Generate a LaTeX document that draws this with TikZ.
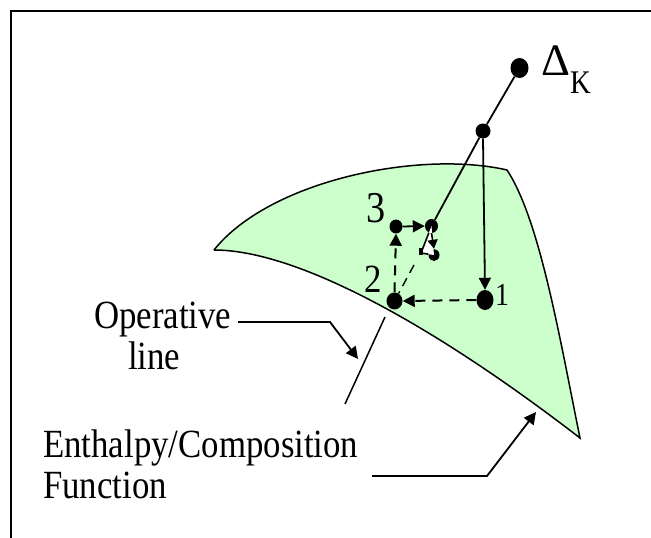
\documentclass[tikz,border=0pt]{standalone}
\usepackage{fontspec}
\setmainfont[FakeStretch=0.87]{Liberation Serif}
\newfontfamily\widefont{Liberation Serif}
\usetikzlibrary{arrows.meta,shapes.geometric}
\definecolor{surf}{RGB}{204,255,204}
\tikzset{
  dotn/.style={circle,fill=black,draw=none,inner sep=0pt,minimum size=#1},
  dote/.style args={#1x#2}{ellipse,fill=black,draw=none,inner sep=0pt,minimum width=#1,minimum height=#2},
  lab/.style={inner sep=0pt,anchor=base west,font=\fontsize{#1}{#1}\selectfont,text=black},
  tipped/.style={-{Triangle[length=12pt,width=12pt]},line width=1.8pt},
  dashline/.style={tipped,line width=2pt,dash pattern=on 10pt off 7pt}
}
\begin{document}
\begin{tikzpicture}[x=1pt,y=-1pt]
\useasboundingbox (0,0) rectangle (651,538);
\fill[white] (0,0) rectangle (651,538);
\coordinate (fa) at (11,538);
\coordinate (fb) at (11,10.5);
\coordinate (fc) at (651,10.5);
\draw[line width=2pt] (fa) -- (fb) -- (fc);
\coordinate (s1) at (214,250);
\coordinate (s2) at (507,170);
\coordinate (s3) at (580,438);
\draw[fill=surf,line width=1.5pt]
  (s1) .. controls (270,180) and (420,150) .. (s2)
  .. controls (540,220) and (560,340) .. (s3)
  .. controls (440,330) and (300,250) .. (s1);
\node[dote=18ptx20pt] (A) at (519.5,68) {};
\node[dotn=15pt] (B) at (483,131) {};
\node[dote=13ptx14pt] (C) at (431.5,226) {};
\node[dote=13ptx14pt] (D) at (396,226.5) {};
\node[dote=11ptx12pt] (E) at (434,255) {};
\node[dote=16ptx17pt] (F) at (394.5,301) {};
\node[dote=17ptx20pt] (G) at (485,300) {};
\coordinate (P) at (421,253);
\coordinate (Q) at (414,265);
\fill[white] (C.center) -- (P) -- (E.center) -- cycle;
\draw[line width=1.8pt] (A) -- (B) -- (C);
\draw[tipped] (B.south) -- (G.north);
\draw[dashline] (G.west) -- (F.east);
\draw[dashline] (F.north) -- (D.south);
\draw[tipped] (D.east) -- (C.west);
\draw[-{Triangle[length=9pt,width=10pt]},line width=1.6pt] (C.south) -- (E.north);
\draw[line width=1.6pt] (C) -- (P);
\draw[line width=1.4pt,dash pattern=on 9pt off 6pt] (Q) -- (F);
\draw[line width=1.6pt] (E) -- (P);
\fill (P) +(-2.5,-5) rectangle +(2,2);
\node[lab=45] (delta) at (541,75) {\widefont Δ};
\node[lab=33] (k) at (570,93) {K};
\node[lab=44] (n3) at (366,222) {3};
\node[lab=40] (n2) at (364,292) {2};
\node[lab=32] (n1) at (495,305) {1};
\node[lab=40] (op) at (94,328) {Operative};
\node[lab=40] (li) at (128,369) {line};
\node[lab=40] (en) at (43,457) {Enthalpy/Composition};
\node[lab=40] (fu) at (43,498) {Function};
\coordinate (o1) at (238,322);
\coordinate (o2) at (330,322);
\coordinate (o3) at (358,359);
\draw[tipped] (o1) -- (o2) -- (o3);
\coordinate (l1) at (385,317);
\coordinate (l2) at (345,404);
\draw[line width=1.5pt] (l1) -- (l2);
\coordinate (e1) at (372,476);
\coordinate (e2) at (487,476);
\coordinate (e3) at (536,412);
\draw[tipped] (e1) -- (e2) -- (e3);
\end{tikzpicture}
\end{document}
